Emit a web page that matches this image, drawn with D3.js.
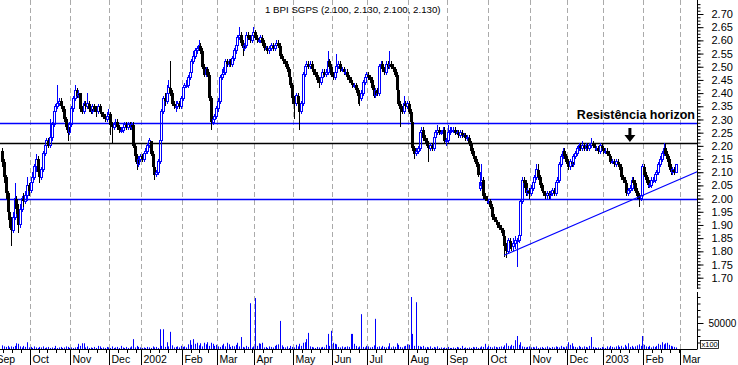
<!DOCTYPE html>
<html>
<head>
<meta charset="utf-8">
<script src="https://d3js.org/d3.v7.min.js"></script>
<style>
  body { margin: 0; background: #fff; }
  text { font-family: "Liberation Sans", Arial, sans-serif; }
</style>
</head>
<body>
<div id="chart"></div>
<script>
  // month labels and number of trading days in each month (Sep 2001 starts before the data)
  var monthLabels = ["Sep","Oct","Nov","Dec","2002","Feb","Mar","Apr","May","Jun","Jul","Aug","Sep","Oct","Nov","Dec","2003","Feb","Mar"];
  var monthDays = [20,23,22,18,23,20,21,22,22,20,23,22,23,24,21,20,23,21];
  var firstMonthStart = -4;

  // daily prices, one value per trading day from mid Sep 2001
  var open = [
    2.18,2.14,2.08,2.02,1.95,1.92,1.88,1.93,2.00,1.96,
    1.90,1.96,2.00,1.99,2.01,2.05,2.03,2.06,2.08,2.12,
    2.15,2.10,2.08,2.11,2.17,2.20,2.22,2.20,2.23,2.28,
    2.33,2.35,2.36,2.37,2.35,2.34,2.30,2.27,2.25,2.28,
    2.34,2.38,2.41,2.39,2.40,2.34,2.33,2.36,2.35,2.36,
    2.34,2.33,2.35,2.34,2.33,2.35,2.33,2.32,2.31,2.30,
    2.31,2.32,2.28,2.27,2.28,2.29,2.27,2.26,2.26,2.27,
    2.28,2.27,2.28,2.27,2.28,2.20,2.16,2.13,2.15,2.16,
    2.15,2.17,2.18,2.20,2.22,2.17,2.12,2.09,2.10,2.14,
    2.22,2.33,2.38,2.37,2.40,2.42,2.40,2.36,2.35,2.35,
    2.36,2.35,2.38,2.42,2.43,2.43,2.46,2.48,2.52,2.54,
    2.56,2.57,2.58,2.56,2.50,2.47,2.49,2.47,2.38,2.29,
    2.30,2.31,2.34,2.37,2.46,2.47,2.48,2.52,2.51,2.52,
    2.51,2.53,2.56,2.58,2.61,2.62,2.59,2.57,2.58,2.62,
    2.61,2.60,2.62,2.63,2.61,2.60,2.60,2.61,2.59,2.57,
    2.57,2.56,2.57,2.58,2.57,2.58,2.59,2.58,2.54,2.53,
    2.52,2.51,2.49,2.46,2.43,2.38,2.36,2.39,2.36,2.33,
    2.36,2.47,2.50,2.51,2.50,2.51,2.49,2.48,2.47,2.45,
    2.44,2.46,2.48,2.47,2.48,2.52,2.50,2.47,2.46,2.48,
    2.50,2.51,2.49,2.49,2.48,2.48,2.46,2.45,2.44,2.43,
    2.43,2.41,2.39,2.38,2.40,2.44,2.46,2.47,2.46,2.45,
    2.42,2.39,2.41,2.40,2.50,2.51,2.49,2.48,2.51,2.50,
    2.51,2.50,2.49,2.47,2.41,2.36,2.34,2.33,2.36,2.35,
    2.36,2.33,2.29,2.19,2.17,2.18,2.19,2.25,2.26,2.23,
    2.22,2.20,2.19,2.20,2.19,2.23,2.25,2.26,2.25,2.25,
    2.26,2.22,2.22,2.25,2.26,2.26,2.26,2.25,2.25,2.24,
    2.25,2.24,2.24,2.23,2.23,2.21,2.18,2.16,2.15,2.13,
    2.04,2.05,2.07,2.01,2.00,1.99,1.99,1.97,1.93,1.92,
    1.91,1.90,1.89,1.88,1.86,1.82,1.80,1.84,1.83,1.82,
    1.83,1.84,1.84,1.86,1.99,2.07,2.06,2.02,2.03,2.02,
    2.04,2.06,2.08,2.11,2.08,2.05,2.03,2.02,2.01,2.02,
    2.01,2.02,2.03,2.02,2.06,2.07,2.13,2.16,2.18,2.16,
    2.14,2.12,2.14,2.13,2.16,2.17,2.19,2.20,2.19,2.20,
    2.19,2.20,2.19,2.20,2.21,2.20,2.19,2.19,2.18,2.20,
    2.19,2.18,2.18,2.17,2.16,2.14,2.14,2.13,2.14,2.13,
    2.12,2.08,2.07,2.06,2.02,2.03,2.04,2.07,2.06,2.03,
    2.01,2.00,2.01,2.12,2.09,2.07,2.05,2.05,2.07,2.07,
    2.09,2.10,2.13,2.15,2.17,2.19,2.17,2.15,2.12,2.10,
    2.11,2.10
  ];
  var high = [
    2.19,2.15,2.09,2.03,1.97,1.93,1.95,2.06,2.01,1.98,
    1.98,2.01,2.02,2.03,2.08,2.06,2.07,2.10,2.13,2.17,
    2.16,2.11,2.12,2.18,2.21,2.23,2.23,2.30,2.29,2.34,
    2.36,2.43,2.38,2.38,2.36,2.35,2.31,2.28,2.29,2.35,
    2.39,2.43,2.42,2.41,2.40,2.35,2.37,2.37,2.40,2.37,
    2.35,2.36,2.36,2.35,2.36,2.36,2.34,2.33,2.32,2.33,
    2.34,2.33,2.29,2.29,2.30,2.30,2.28,2.27,2.28,2.29,
    2.29,2.29,2.29,2.29,2.29,2.21,2.17,2.16,2.17,2.17,
    2.18,2.19,2.21,2.23,2.22,2.18,2.13,2.11,2.15,2.23,
    2.34,2.39,2.40,2.43,2.45,2.52,2.41,2.37,2.37,2.37,
    2.37,2.39,2.43,2.44,2.45,2.47,2.49,2.53,2.56,2.57,
    2.58,2.60,2.59,2.57,2.51,2.50,2.50,2.48,2.39,2.31,
    2.32,2.35,2.38,2.47,2.49,2.50,2.53,2.53,2.53,2.53,
    2.54,2.57,2.59,2.62,2.65,2.63,2.60,2.59,2.63,2.63,
    2.62,2.63,2.65,2.64,2.62,2.61,2.62,2.62,2.60,2.58,
    2.58,2.58,2.59,2.59,2.59,2.60,2.60,2.59,2.55,2.54,
    2.53,2.52,2.50,2.47,2.44,2.39,2.40,2.40,2.37,2.37,
    2.48,2.51,2.52,2.52,2.52,2.52,2.50,2.49,2.48,2.46,
    2.47,2.49,2.49,2.49,2.56,2.53,2.51,2.48,2.49,2.55,
    2.52,2.52,2.50,2.50,2.49,2.49,2.47,2.46,2.45,2.44,
    2.44,2.42,2.40,2.41,2.45,2.47,2.48,2.48,2.47,2.46,
    2.43,2.42,2.42,2.51,2.52,2.52,2.50,2.52,2.52,2.56,
    2.52,2.51,2.50,2.48,2.42,2.37,2.35,2.39,2.37,2.37,
    2.37,2.34,2.30,2.20,2.19,2.20,2.26,2.27,2.27,2.24,
    2.23,2.21,2.21,2.21,2.24,2.26,2.28,2.27,2.26,2.27,
    2.27,2.23,2.28,2.27,2.27,2.27,2.27,2.26,2.26,2.26,
    2.26,2.25,2.25,2.24,2.24,2.22,2.19,2.17,2.16,2.14,
    2.10,2.13,2.08,2.02,2.01,2.00,2.00,1.98,1.94,1.93,
    1.92,1.91,1.90,1.89,1.87,1.83,1.85,1.85,1.84,1.85,
    1.86,1.85,1.87,2.00,2.08,2.08,2.07,2.04,2.04,2.05,
    2.07,2.09,2.13,2.13,2.09,2.06,2.04,2.03,2.03,2.03,
    2.03,2.04,2.04,2.07,2.08,2.14,2.17,2.19,2.19,2.17,
    2.15,2.15,2.15,2.17,2.18,2.20,2.21,2.21,2.22,2.21,
    2.21,2.21,2.21,2.23,2.22,2.21,2.20,2.20,2.21,2.21,
    2.20,2.19,2.19,2.18,2.17,2.15,2.15,2.15,2.15,2.14,
    2.13,2.09,2.08,2.07,2.04,2.05,2.08,2.08,2.07,2.04,
    2.02,2.02,2.13,2.13,2.10,2.08,2.06,2.08,2.08,2.10,
    2.11,2.14,2.16,2.18,2.21,2.21,2.18,2.16,2.13,2.12,
    2.12,2.13
  ];
  var low = [
    2.12,2.06,2.00,1.93,1.89,1.82,1.87,1.92,1.94,1.87,
    1.89,1.95,1.97,1.98,1.99,2.01,2.02,2.05,2.07,2.10,
    2.09,2.06,2.07,2.10,2.16,2.19,2.19,2.19,2.22,2.27,
    2.32,2.34,2.35,2.34,2.33,2.29,2.26,2.22,2.24,2.27,
    2.33,2.37,2.38,2.38,2.33,2.32,2.32,2.34,2.34,2.33,
    2.32,2.32,2.33,2.31,2.32,2.32,2.31,2.30,2.29,2.29,
    2.30,2.24,2.21,2.26,2.27,2.26,2.25,2.25,2.25,2.26,
    2.26,2.26,2.26,2.26,2.19,2.14,2.11,2.12,2.14,2.14,
    2.14,2.16,2.17,2.19,2.16,2.11,2.07,2.08,2.09,2.13,
    2.21,2.32,2.35,2.36,2.39,2.39,2.35,2.34,2.33,2.34,
    2.34,2.34,2.37,2.41,2.42,2.42,2.45,2.47,2.51,2.53,
    2.55,2.56,2.55,2.49,2.46,2.46,2.46,2.37,2.26,2.28,
    2.29,2.30,2.33,2.36,2.45,2.46,2.47,2.50,2.50,2.50,
    2.50,2.52,2.55,2.57,2.60,2.58,2.54,2.56,2.57,2.60,
    2.59,2.59,2.61,2.60,2.59,2.59,2.59,2.58,2.56,2.56,
    2.55,2.55,2.56,2.56,2.56,2.57,2.57,2.53,2.52,2.51,
    2.50,2.48,2.45,2.42,2.36,2.30,2.35,2.35,2.26,2.32,
    2.35,2.46,2.49,2.49,2.49,2.48,2.47,2.46,2.44,2.42,
    2.43,2.45,2.46,2.46,2.47,2.49,2.46,2.45,2.45,2.47,
    2.49,2.48,2.48,2.47,2.47,2.45,2.44,2.43,2.42,2.42,
    2.40,2.36,2.35,2.37,2.39,2.43,2.45,2.45,2.44,2.41,
    2.38,2.38,2.39,2.39,2.49,2.48,2.47,2.47,2.49,2.49,
    2.49,2.48,2.46,2.40,2.35,2.27,2.32,2.32,2.34,2.34,
    2.32,2.28,2.18,2.15,2.16,2.17,2.18,2.24,2.22,2.21,
    2.19,2.14,2.18,2.18,2.18,2.22,2.24,2.24,2.24,2.24,
    2.21,2.20,2.21,2.24,2.25,2.25,2.24,2.24,2.23,2.23,
    2.23,2.23,2.22,2.22,2.20,2.17,2.15,2.14,2.12,2.08,
    2.03,2.04,2.00,1.99,1.98,1.98,1.96,1.92,1.91,1.90,
    1.89,1.88,1.87,1.85,1.78,1.775,1.79,1.81,1.80,1.80,
    1.81,1.74,1.83,1.85,1.98,2.04,2.01,2.01,2.00,2.01,
    2.03,2.04,2.07,2.07,2.04,2.02,2.01,2.00,2.00,2.00,
    2.00,2.01,2.01,2.01,2.05,2.06,2.12,2.15,2.15,2.13,
    2.11,2.11,2.12,2.12,2.15,2.16,2.18,2.18,2.18,2.18,
    2.18,2.18,2.18,2.19,2.19,2.18,2.18,2.17,2.17,2.18,
    2.17,2.17,2.16,2.15,2.13,2.13,2.12,2.12,2.12,2.11,
    2.07,2.06,2.05,2.01,2.01,2.02,2.03,2.05,2.02,2.00,
    1.97,1.99,2.00,2.08,2.06,2.04,2.04,2.04,2.06,2.06,
    2.08,2.09,2.12,2.14,2.16,2.16,2.14,2.11,2.09,2.09,
    2.09,2.10
  ];
  var close = [
    2.14,2.08,2.02,1.95,1.92,1.88,1.93,2.00,1.96,1.90,
    1.96,2.00,1.99,2.01,2.05,2.03,2.06,2.08,2.12,2.15,
    2.10,2.08,2.11,2.17,2.20,2.22,2.20,2.23,2.28,2.33,
    2.35,2.36,2.37,2.35,2.34,2.30,2.27,2.25,2.28,2.34,
    2.38,2.41,2.39,2.40,2.34,2.33,2.36,2.35,2.36,2.34,
    2.33,2.35,2.34,2.33,2.35,2.33,2.32,2.31,2.30,2.31,
    2.32,2.28,2.27,2.28,2.29,2.27,2.26,2.26,2.27,2.28,
    2.27,2.28,2.27,2.28,2.20,2.16,2.13,2.15,2.16,2.15,
    2.17,2.18,2.20,2.22,2.17,2.12,2.09,2.10,2.14,2.22,
    2.33,2.38,2.37,2.40,2.42,2.40,2.36,2.35,2.35,2.36,
    2.35,2.38,2.42,2.43,2.43,2.46,2.48,2.52,2.54,2.56,
    2.57,2.58,2.56,2.50,2.47,2.49,2.47,2.38,2.29,2.30,
    2.31,2.34,2.37,2.46,2.47,2.48,2.52,2.51,2.52,2.51,
    2.53,2.56,2.58,2.61,2.62,2.59,2.57,2.58,2.62,2.61,
    2.60,2.62,2.63,2.61,2.60,2.60,2.61,2.59,2.57,2.57,
    2.56,2.57,2.58,2.57,2.58,2.59,2.58,2.54,2.53,2.52,
    2.51,2.49,2.46,2.43,2.38,2.36,2.39,2.36,2.33,2.36,
    2.47,2.50,2.51,2.50,2.51,2.49,2.48,2.47,2.45,2.44,
    2.46,2.48,2.47,2.48,2.52,2.50,2.47,2.46,2.48,2.50,
    2.51,2.49,2.49,2.48,2.48,2.46,2.45,2.44,2.43,2.43,
    2.41,2.39,2.38,2.40,2.44,2.46,2.47,2.46,2.45,2.42,
    2.39,2.41,2.40,2.50,2.51,2.49,2.48,2.51,2.50,2.51,
    2.50,2.49,2.47,2.41,2.36,2.34,2.33,2.36,2.35,2.36,
    2.33,2.29,2.19,2.17,2.18,2.19,2.25,2.26,2.23,2.22,
    2.20,2.19,2.20,2.19,2.23,2.25,2.26,2.25,2.25,2.26,
    2.22,2.22,2.25,2.26,2.26,2.26,2.25,2.25,2.24,2.25,
    2.24,2.24,2.23,2.23,2.21,2.18,2.16,2.15,2.13,2.09,
    2.06,2.07,2.01,2.00,1.99,1.99,1.97,1.93,1.92,1.91,
    1.90,1.89,1.88,1.86,1.82,1.80,1.84,1.83,1.82,1.83,
    1.84,1.84,1.86,1.99,2.07,2.06,2.02,2.03,2.02,2.04,
    2.06,2.08,2.11,2.08,2.05,2.03,2.02,2.01,2.02,2.01,
    2.02,2.03,2.02,2.06,2.07,2.13,2.16,2.18,2.16,2.14,
    2.12,2.14,2.13,2.16,2.17,2.19,2.20,2.19,2.20,2.19,
    2.20,2.19,2.20,2.21,2.20,2.19,2.19,2.18,2.20,2.19,
    2.18,2.18,2.17,2.16,2.14,2.14,2.13,2.14,2.13,2.12,
    2.08,2.07,2.06,2.02,2.03,2.04,2.07,2.06,2.03,2.01,
    2.00,2.01,2.12,2.09,2.07,2.05,2.05,2.07,2.07,2.09,
    2.10,2.13,2.15,2.17,2.19,2.17,2.15,2.12,2.10,2.11,
    2.10,2.13
  ];
  // daily volume, in units of 100 shares
  var volume = [
    7000,5000,4000,6000,3000,5000,4000,6000,11000,10000,
    5000,3000,6000,4000,13000,3000,4000,2000,5000,3000,
    2000,4000,3000,5000,2000,3000,4000,2000,3000,2000,
    6000,2000,3000,4000,2000,3000,5000,4000,2000,3000,
    2000,3000,4000,10000,6000,11000,11000,3000,5000,2000,
    3000,2000,4000,2000,6000,5000,2000,3000,2000,4000,
    3000,2000,5000,2000,3000,4000,2000,6000,3000,2000,
    4000,2000,3000,5000,19000,3000,6000,4000,3000,2000,
    3000,2000,4000,3000,2000,5000,3000,4000,2000,38000,
    6000,38000,4000,13000,5000,33000,7000,3000,4000,5000,
    3000,6000,4000,5000,3000,9000,17000,8000,19000,10000,
    12000,7000,11000,5000,12000,9000,13000,6000,12000,10000,
    6000,8000,5000,4000,7000,10000,5000,12000,9000,4000,
    6000,5000,8000,12000,5000,23000,4000,3000,6000,4000,
    88000,3000,5000,98000,6000,11000,10000,12000,3000,4000,
    2000,5000,4000,3000,6000,8000,9000,54000,7000,4000,
    3000,5000,2000,6000,4000,3000,8000,5000,10000,6000,
    12000,13000,19000,31000,5000,4000,3000,2000,4000,3000,
    3000,4000,3000,8000,29000,6000,35000,12000,10000,9000,
    4000,3000,5000,3000,4000,5000,4000,29000,29000,10000,
    6000,3000,5000,67000,4000,3000,6000,5000,3000,4000,
    7000,58000,4000,5000,3000,6000,4000,3000,5000,11000,
    3000,5000,4000,11000,8000,4000,3000,5000,6000,9000,
    8000,100000,29000,6000,90000,6000,5000,4000,6000,3000,
    4000,3000,5000,2000,4000,3000,5000,2000,3000,2000,
    3000,2000,4000,2000,2000,3000,2000,4000,3000,2000,
    6000,2000,3000,2000,3000,2000,4000,3000,4000,2000,
    3000,5000,4000,10000,3000,6000,4000,3000,5000,4000,
    3000,4000,5000,4000,7000,11000,6000,5000,8000,6000,
    17000,25000,8000,13000,5000,4000,3000,4000,5000,3000,
    4000,3000,5000,2000,3000,4000,2000,3000,5000,3000,
    2000,4000,3000,5000,4000,3000,6000,4000,3000,5000,
    13000,8000,11000,5000,4000,3000,6000,4000,3000,5000,
    4000,3000,6000,23000,4000,3000,2000,3000,2000,4000,
    3000,2000,5000,3000,6000,4000,3000,5000,7000,4000,
    6000,3000,8000,5000,11000,4000,6000,3000,5000,7000,
    9000,6000,25000,8000,5000,4000,6000,3000,5000,4000,
    6000,10000,8000,13000,9000,11000,12000,8000,6000,5000,
    4000,3000
  ];

  // axis tick labels
  var priceTicks = [1.70,1.75,1.80,1.85,1.90,1.95,2.00,2.05,2.10,2.15,2.20,2.25,2.30,2.35,2.40,2.45,2.50,2.55,2.60,2.65,2.70];
  var volumeTicks = [50000];

  // drawn annotations: horizontal levels, trend line, label and arrow
  var levelPrices = [2.285, 2.21, 2.00];
  var levelColors = ["#0000ff", "#000000", "#0000ff"];
  var trendDays = [284.3, 393.5];
  var trendPrices = [1.785, 2.102];
  var noteText = "Resistência horizon";
  var noteDay = 325.5, notePrice = 2.30;
  var arrowDay = 355.5, arrowPrice = 2.215;
  var title = "1 BPI SGPS (2.100, 2.130, 2.100, 2.130)";

  var width = 738, height = 365;
  var plotRight = 697.5;
  var blue = "#0000ff";

  var svg = d3.select("#chart").append("svg")
    .attr("width", width)
    .attr("height", height);

  var x = d3.scaleLinear().domain([0, 384]).range([1.4, 680.3]);
  var y = d3.scaleLinear().domain([1.70, 2.70]).range([277.7, 14]);
  var yVol = d3.scaleLinear().domain([0, 100000]).range([349, 297]);

  function xc(i) { return Math.round(x(i + 0.5)) + 0.5; }

  svg.append("clipPath").attr("id", "plotClip")
    .append("rect").attr("x", 0).attr("y", 0).attr("width", plotRight).attr("height", 349);

  // month boundaries
  var monthStarts = [firstMonthStart];
  monthDays.forEach(function(n, k) { monthStarts.push(monthStarts[k] + n); });

  // week ticks every 5 trading days inside each month
  var weekTicks = [];
  monthDays.forEach(function(n, k) {
    for (var d = 5; d < n; d += 5) weekTicks.push(monthStarts[k] + d);
  });

  // dashed month grid
  svg.append("g").selectAll("line")
    .data(monthStarts.filter(function(m) { return x(m) > 0; }))
    .enter().append("line")
    .attr("x1", function(m) { return Math.round(x(m)) + 0.5; })
    .attr("x2", function(m) { return Math.round(x(m)) + 0.5; })
    .attr("y1", 0)
    .attr("y2", 349)
    .style("stroke", "#aaaaaa")
    .style("stroke-dasharray", "5,3");

  var plot = svg.append("g").attr("clip-path", "url(#plotClip)");

  // horizontal levels
  plot.selectAll("line.level").data(levelPrices).enter().append("line")
    .attr("class", "level")
    .attr("x1", 0).attr("x2", plotRight)
    .attr("y1", function(p) { return Math.round(y(p)) + 0.5; })
    .attr("y2", function(p) { return Math.round(y(p)) + 0.5; })
    .style("stroke", function(p, k) { return levelColors[k]; })
    .style("stroke-width", 1.3);

  // volume bars
  plot.selectAll("line.vol").data(volume).enter().append("line")
    .attr("class", "vol")
    .attr("x1", function(v, i) { return xc(i); })
    .attr("x2", function(v, i) { return xc(i); })
    .attr("y1", yVol(0))
    .attr("y2", function(v) { return yVol(v); })
    .style("stroke", blue);

  // candles
  var bars = d3.range(close.length).map(function(i) {
    return { i: i, o: open[i], h: high[i], l: low[i], c: close[i], up: close[i] >= open[i] };
  });
  var candle = plot.selectAll("g.bar").data(bars).enter().append("g")
    .attr("class", "bar")
    .style("shape-rendering", "crispEdges");

  candle.append("line")
    .attr("x1", function(d) { return xc(d.i); })
    .attr("x2", function(d) { return xc(d.i); })
    .attr("y1", function(d) { return y(d.h); })
    .attr("y2", function(d) { return y(Math.max(d.o, d.c)); })
    .style("stroke", function(d) { return d.up ? blue : "#000"; });
  candle.append("line")
    .attr("x1", function(d) { return xc(d.i); })
    .attr("x2", function(d) { return xc(d.i); })
    .attr("y1", function(d) { return y(Math.min(d.o, d.c)); })
    .attr("y2", function(d) { return y(d.l); })
    .style("stroke", function(d) { return d.up ? blue : "#000"; });
  candle.append("rect")
    .attr("x", function(d) { return d.up ? xc(d.i) - 1 : xc(d.i) - 1.5; })
    .attr("width", function(d) { return d.up ? 2 : 3; })
    .attr("y", function(d) { return y(Math.max(d.o, d.c)); })
    .attr("height", function(d) { return Math.max(1, y(Math.min(d.o, d.c)) - y(Math.max(d.o, d.c))); })
    .style("fill", function(d) { return d.up ? "none" : "#000"; })
    .style("stroke", function(d) { return d.up ? blue : "none"; });

  // trend line
  plot.append("line")
    .attr("x1", x(trendDays[0])).attr("y1", y(trendPrices[0]))
    .attr("x2", x(trendDays[1])).attr("y2", y(trendPrices[1]))
    .style("stroke", blue)
    .style("stroke-width", 1.2);

  // note and arrow
  svg.append("text")
    .attr("x", x(noteDay))
    .attr("y", y(notePrice))
    .style("font-size", "12.5px")
    .style("font-weight", "bold")
    .text(noteText);

  var ax = x(arrowDay), ay = y(arrowPrice);
  plot.append("path")
    .attr("d", "M" + (ax - 1.5) + "," + (ay - 14) + "h3v7h4l-5.5,7l-5.5,-7h4z")
    .style("fill", "#000");

  // title
  svg.append("text")
    .attr("x", 265)
    .attr("y", 13)
    .style("font-size", "9.7px")
    .text(title);

  // right price axis
  svg.append("line")
    .attr("x1", plotRight).attr("x2", plotRight)
    .attr("y1", 0).attr("y2", 289)
    .style("stroke", "#000");
  svg.append("line")
    .attr("x1", plotRight).attr("x2", plotRight)
    .attr("y1", 292).attr("y2", 349)
    .style("stroke", "#000");

  var minorPrice = d3.range(1.6625, 2.75, 0.0125);
  var priceMinorAxis = d3.axisRight(y).tickValues(minorPrice).tickSize(3).tickFormat("").tickSizeOuter(0);
  var priceAxis = d3.axisRight(y).tickValues(priceTicks).tickSize(6).tickPadding(8)
    .tickFormat(d3.format(".2f")).tickSizeOuter(0);

  var gpm = svg.append("g").attr("transform", "translate(" + plotRight + ",0)").call(priceMinorAxis);
  var gp = svg.append("g").attr("transform", "translate(" + plotRight + ",0)").call(priceAxis);
  [gpm, gp].forEach(function(g) { g.select(".domain").remove(); });
  gpm.selectAll(".tick").filter(function(v) { return y(v) < 0 || y(v) > 289; }).remove();
  gp.selectAll("text").style("font-size", "11px").style("font-family", "Liberation Sans, Arial, sans-serif");

  // right volume axis
  var volMinorAxis = d3.axisRight(yVol).tickValues(d3.range(12500, 100001, 12500)).tickSize(3).tickFormat("").tickSizeOuter(0);
  var volAxis = d3.axisRight(yVol).tickValues(volumeTicks).tickSize(6).tickPadding(5)
    .tickFormat(d3.format("d")).tickSizeOuter(0);
  var gvm = svg.append("g").attr("transform", "translate(" + plotRight + ",0)").call(volMinorAxis);
  var gv = svg.append("g").attr("transform", "translate(" + plotRight + ",0)").call(volAxis);
  [gvm, gv].forEach(function(g) { g.select(".domain").remove(); });
  gv.selectAll("text").style("font-size", "10px").style("font-family", "Liberation Sans, Arial, sans-serif");

  // x100 box
  svg.append("rect")
    .attr("x", 700.5).attr("y", 340.5).attr("width", 18).attr("height", 8)
    .style("fill", "#fff").style("stroke", "#000").style("stroke-width", 0.8);
  svg.append("text")
    .attr("x", 701.5).attr("y", 347.3)
    .style("font-size", "7.5px")
    .text("x100");

  // bottom axis
  svg.append("line")
    .attr("x1", 0).attr("x2", plotRight)
    .attr("y1", 349.5).attr("y2", 349.5)
    .style("stroke", "#000");

  var weekAxis = d3.axisBottom(x).tickValues(weekTicks).tickSize(4).tickFormat("").tickSizeOuter(0);
  var gw = svg.append("g").attr("transform", "translate(0,349)").call(weekAxis);
  gw.select(".domain").remove();

  var monthAxis = d3.axisBottom(x).tickValues(monthStarts).tickSize(16).tickSizeOuter(0)
    .tickFormat(function(m, k) { return monthLabels[k]; });
  var gm = svg.append("g").attr("transform", "translate(0,349)").call(monthAxis);
  gm.select(".domain").remove();
  gm.selectAll("text")
    .attr("text-anchor", "start")
    .attr("x", 2)
    .attr("y", 7)
    .style("font-size", "10.5px")
    .style("font-family", "Liberation Sans, Arial, sans-serif");
  [gw, gm].forEach(function(g) {
    g.selectAll(".tick").attr("transform", function(m) { return "translate(" + (Math.round(x(m)) + 0.5) + ",0)"; });
  });
</script>
</body>
</html>
